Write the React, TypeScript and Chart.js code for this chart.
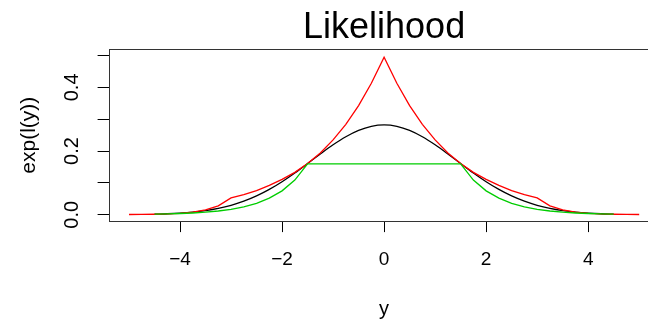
import React, { useEffect, useRef } from "react";
import { Chart, registerables } from "chart.js";

Chart.register(...registerables);

const chartTitle = "Likelihood";
const xAxisTitle = "y";
const yAxisTitle = "exp(l(y))";

const xValues = [
  -5, -4.75, -4.5, -4.25, -4, -3.75, -3.5, -3.25, -3, -2.75, -2.5, -2.25, -2, -1.75, -1.5, -1.25, -1, -0.75, -0.5, -0.25,
  0,
  0.25, 0.5, 0.75, 1, 1.25, 1.5, 1.75, 2, 2.25, 2.5, 2.75, 3, 3.25, 3.5, 3.75, 4, 4.25, 4.5, 4.75, 5,
];

const blackValues = [
  null, null, 0.0018, 0.0031, 0.0052, 0.0084, 0.0132, 0.0201, 0.0297, 0.0426, 0.0591, 0.0796, 0.1038, 0.1312, 0.1607, 0.1909, 0.2197, 0.245, 0.265, 0.2777,
  0.2821,
  0.2777, 0.265, 0.245, 0.2197, 0.1909, 0.1607, 0.1312, 0.1038, 0.0796, 0.0591, 0.0426, 0.0297, 0.0201, 0.0132, 0.0084, 0.0052, 0.0031, 0.0018, null, null,
];

const redValues = [
  0.0008, 0.001, 0.0015, 0.0025, 0.0045, 0.008, 0.015, 0.028, 0.053, 0.063, 0.076, 0.092, 0.111, 0.133, 0.161, 0.194, 0.235, 0.284, 0.343, 0.413,
  0.495,
  0.413, 0.343, 0.284, 0.235, 0.194, 0.161, 0.133, 0.111, 0.092, 0.076, 0.063, 0.053, 0.028, 0.015, 0.008, 0.0045, 0.0025, 0.0015, 0.001, 0.0008,
];

const greenValues = [
  null, null, 0.0018, 0.0026, 0.0038, 0.0055, 0.008, 0.0117, 0.017, 0.0247, 0.0359, 0.0523, 0.075, 0.109, 0.16, 0.16, 0.16, 0.16, 0.16, 0.16,
  0.16,
  0.16, 0.16, 0.16, 0.16, 0.16, 0.16, 0.109, 0.075, 0.0523, 0.0359, 0.0247, 0.017, 0.0117, 0.008, 0.0055, 0.0038, 0.0026, 0.0018, null, null,
];

const xTickValues = [-4, -2, 0, 2, 4];
const xTickLabels = ["\u22124", "\u22122", "0", "2", "4"];
const yTickValues = [0, 0.1, 0.2, 0.3, 0.4, 0.5];
const yTickLabels = ["0.0", "", "0.2", "", "0.4", ""];

const FONT = '"Liberation Sans", Arial, sans-serif';

const toPoints = (ys: (number | null)[]) => xValues.map((x, i) => ({ x, y: ys[i] }));

const boxPlugin = {
  id: "rBox",
  afterDraw(chart: any) {
    const { ctx, chartArea } = chart;
    ctx.save();
    ctx.strokeStyle = "#333";
    ctx.lineWidth = 1;
    const l = Math.round(chartArea.left) + 0.5;
    const t = Math.round(chartArea.top) + 0.5;
    const r = Math.round(chartArea.right) + 0.5;
    const b = Math.round(chartArea.bottom) + 0.5;
    ctx.strokeRect(l, t, r - l, b - t);
    const ys = chart.scales.y;
    ctx.font = `20px ${FONT}`;
    ctx.fillStyle = "#000";
    ctx.textAlign = "center";
    ctx.textBaseline = "middle";
    yTickValues.forEach((v, i) => {
      const lbl = yTickLabels[i];
      if (!lbl) return;
      const py = ys.getPixelForValue(v);
      ctx.save();
      ctx.translate(chartArea.left - 36.3, py);
      ctx.rotate(-Math.PI / 2);
      ctx.fillText(lbl, 0, 0);
      ctx.restore();
    });
    ctx.restore();
  },
};

export default function App() {
  const ref = useRef<HTMLCanvasElement | null>(null);
  useEffect(() => {
    if (!ref.current) return;
    const chart = new Chart(ref.current, {
      type: "line",
      data: {
        datasets: [
          {
            label: "black",
            data: toPoints(blackValues),
            borderColor: "#000000",
            borderWidth: 1.3,
            pointRadius: 0,
            cubicInterpolationMode: "monotone",
            spanGaps: false,
            order: 3,
          },
          {
            label: "red",
            data: toPoints(redValues),
            borderColor: "#FF0000",
            borderWidth: 1.3,
            pointRadius: 0,
            tension: 0,
            spanGaps: false,
            order: 2,
          },
          {
            label: "green",
            data: toPoints(greenValues),
            borderColor: "#00CD00",
            borderWidth: 1.3,
            pointRadius: 0,
            tension: 0,
            spanGaps: false,
            order: 1,
          },
        ],
      },
      options: {
        responsive: false,
        animation: false,
        layout: { padding: { left: 0, right: 20.4, top: 0, bottom: 0 } },
        plugins: {
          legend: { display: false },
          tooltip: { enabled: false },
          title: {
            display: true,
            text: chartTitle,
            fullSize: false,
            color: "#000",
            font: { family: FONT, size: 36, weight: "normal" },
            padding: { top: 6, bottom: 0 },
          },
        },
        scales: {
          x: {
            type: "linear",
            min: -5.4,
            max: 5.4,
            afterFit: (s: any) => {
              s.height = 98.9;
            },
            afterBuildTicks: (s: any) => {
              s.ticks = xTickValues.map((v) => ({ value: v }));
            },
            ticks: {
              autoSkip: false,
              maxRotation: 0,
              minRotation: 0,
              padding: 16,
              color: "#000",
              font: { family: FONT, size: 19 },
              callback: (v: any) => {
                const i = xTickValues.indexOf(Number(v));
                return i >= 0 ? xTickLabels[i] : "";
              },
            },
            grid: {
              drawOnChartArea: false,
              drawTicks: true,
              tickLength: 11,
              color: "#000",
              lineWidth: 1,
            },
            border: { display: false },
            title: {
              display: true,
              text: xAxisTitle,
              color: "#000",
              font: { family: FONT, size: 20 },
              padding: { top: 0, bottom: -1.5 },
            },
          },
          y: {
            type: "linear",
            min: -0.02,
            max: 0.52,
            afterFit: (s: any) => {
              s.width = 108.6;
            },
            afterBuildTicks: (s: any) => {
              s.ticks = yTickValues.map((v) => ({ value: v }));
            },
            ticks: { display: false },
            grid: {
              drawOnChartArea: false,
              drawTicks: true,
              tickLength: 11,
              color: "#000",
              lineWidth: 1,
            },
            border: { display: false },
            title: {
              display: true,
              text: yAxisTitle,
              color: "#000",
              font: { family: FONT, size: 21 },
              padding: { top: 16.4, bottom: 0 },
            },
          },
        },
      },
      plugins: [boxPlugin],
    } as any);
    return () => chart.destroy();
  }, []);
  return (
    <div
      style={{
        position: "fixed",
        left: 0,
        top: 0,
        width: 648,
        height: 320,
        overflow: "hidden",
        background: "#fff",
      }}
    >
      <canvas ref={ref} width={680} height={320} style={{ display: "block" }} />
    </div>
  );
}
